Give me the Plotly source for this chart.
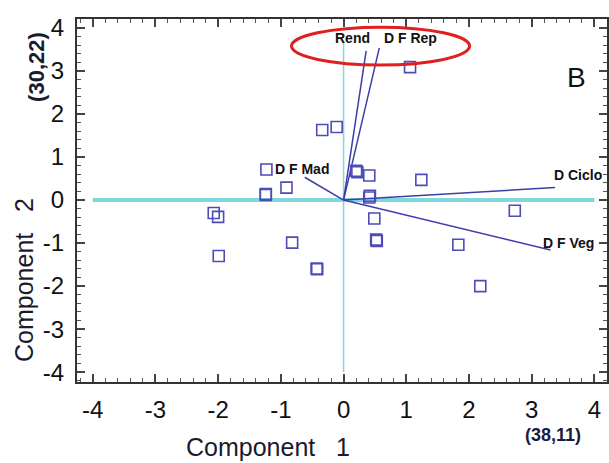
import plotly.graph_objects as go

# --- data ---
score_x = [-0.34, -0.11, -1.23, -1.24, -1.24, -0.91, 0.20, 0.22, 0.41, 1.24, 0.41, 0.42,
           -2.07, -2.00, 0.49, -0.82, 0.53, 0.52, -1.99, -0.43, -0.42, 2.73, 1.83, 2.18, 1.06]
score_y = [1.63, 1.70, 0.71, 0.14, 0.12, 0.29, 0.68, 0.65, 0.57, 0.47, 0.06, 0.10,
           -0.30, -0.39, -0.43, -0.99, -0.95, -0.92, -1.30, -1.59, -1.61, -0.25, -1.04, -2.00, 3.09]

var_names = ["Rend", "D F Rep", "D Ciclo", "D F Veg", "D F Mad"]
load_x = [0.36, 0.57, 3.37, 3.30, -0.62]
load_y = [3.47, 3.54, 0.29, -1.16, 0.53]

tick_vals = [-4, -3, -2, -1, 0, 1, 2, 3, 4]
tick_text = ["-4", "-3", "-2", "-1", "0", "1", "2", "3", "4"]

# label placement styles (anchor, xshift, yshift) per variable
label_style = {
    "Rend": ("right", 6, 13),
    "D F Rep": ("left", 3, 10),
    "D Ciclo": ("left", -3, 13),
    "D F Veg": ("left", -10, 7),
    "D F Mad": ("center", -3, 8),
}

VEC = "#3d3daa"
MARK = "#4c4cb8"
CYAN = "#7fd8dc"
MAIN_FONT = "Liberation Sans, Arial, sans-serif"

fig = go.Figure()

# reference lines through origin
fig.add_trace(go.Scatter(x=[-4, 4], y=[0, 0], mode="lines",
                         line=dict(color=CYAN, width=4), hoverinfo="skip", showlegend=False))
fig.add_trace(go.Scatter(x=[0, 0], y=[-4, 3.65], mode="lines",
                         line=dict(color=CYAN, width=1.5), hoverinfo="skip", showlegend=False))

# loading vectors
for nm, lx, ly in zip(var_names, load_x, load_y):
    fig.add_trace(go.Scatter(x=[0, lx], y=[0, ly], mode="lines",
                             line=dict(color=VEC, width=1.5), hoverinfo="skip", showlegend=False))

# scores
fig.add_trace(go.Scatter(x=score_x, y=score_y, mode="markers",
                         marker=dict(symbol="square-open", size=11, color=MARK,
                                     line=dict(width=1.6, color=MARK)),
                         showlegend=False))

annotations = []
for nm, lx, ly in zip(var_names, load_x, load_y):
    anc, xs, ys = label_style[nm]
    annotations.append(dict(x=lx, y=ly, xref="x", yref="y", text="<b>" + nm + "</b>",
                            showarrow=False, xanchor=anc, yanchor="middle",
                            xshift=xs, yshift=ys,
                            font=dict(family=MAIN_FONT, size=14, color="#111")))

centered = dict(showarrow=False, xanchor="center", yanchor="middle")
annotations += [
    dict(x=3.72, y=2.85, xref="x", yref="y", text="B",
         font=dict(family=MAIN_FONT, size=28, color="#111"), **centered),
    dict(x=0.361, y=-0.18, xref="paper", yref="paper", text="Component\u00a0\u00a0\u00a01",
         font=dict(family=MAIN_FONT, size=25, color="#1a1a2a"), **centered),
    dict(x=-0.1, y=0.281, xref="paper", yref="paper", text="Component\u00a0\u00a0\u00a02",
         textangle=-90, font=dict(family=MAIN_FONT, size=25, color="#1a1a2a"), **centered),
    dict(x=-0.0755, y=0.868, xref="paper", yref="paper", text="<b>(30,22)</b>",
         textangle=-90, font=dict(family=MAIN_FONT, size=22, color="#1a1a30"), **centered),
    dict(x=0.898, y=-0.146, xref="paper", yref="paper", text="<b>(38,11)</b>",
         font=dict(family=MAIN_FONT, size=18, color="#1a1a40"), **centered),
]

axis_common = dict(
    tickvals=tick_vals, ticktext=tick_text, automargin=False,
    ticks="inside", ticklen=8, tickwidth=1.5, tickcolor="#444",
    showline=True, linecolor="#333", linewidth=2, mirror="allticks",
    minor=dict(ticks="inside", ticklen=4, tickwidth=1.2, dtick=0.2, tickcolor="#555"),
    showgrid=False, zeroline=False,
    tickfont=dict(family=MAIN_FONT, size=24, color="#111"),
)

fig.update_layout(
    width=609, height=463, autosize=False,
    margin=dict(l=77, r=2, t=19, b=81),
    paper_bgcolor="white", plot_bgcolor="white",
    xaxis=dict(range=[-4.25, 4.2], ticklabelstandoff=5, **axis_common),
    yaxis=dict(range=[-4.23, 4.21], ticklabelstandoff=6, **axis_common),
    annotations=annotations,
    shapes=[dict(type="circle", xref="x", yref="y", x0=-0.83, x1=2.01, y0=3.14, y1=4.02,
                 line=dict(color="#e02020", width=3))],
)

fig.write_html("out.html", config={"displayModeBar": False},
               post_script="document.body.style.margin='0px';document.body.style.overflow='hidden';")
